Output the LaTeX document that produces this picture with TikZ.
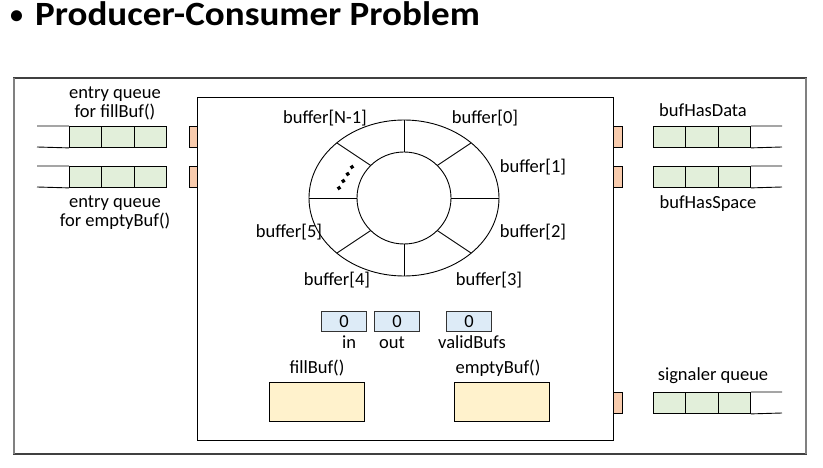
\documentclass[tikz,border=0pt]{standalone}
\usepackage{fontspec}
\setmainfont{Carlito}
\definecolor{qgreen}{HTML}{E2EFDA}
\definecolor{torange}{HTML}{F8CBAD}
\definecolor{cblue}{HTML}{DDEBF7}
\definecolor{pyellow}{HTML}{FFF2CC}
\begin{document}
\begin{tikzpicture}[x=1pt,y=-1pt,
  lbl/.style={anchor=base,inner sep=0pt,font=\fontsize{18.5}{21}\selectfont},
  cell/.style={draw,line width=0.9pt,fill=qgreen,minimum width=32.3pt,minimum height=21pt,inner sep=0pt,anchor=north west},
  tab/.style={draw,line width=0.8pt,fill=torange,minimum width=8.5pt,minimum height=21pt,inner sep=0pt,anchor=north west},
  ctr/.style={draw,line width=0.9pt,draw=black!80,fill=cblue,minimum width=45pt,minimum height=20pt,inner sep=0pt,anchor=north west,font=\fontsize{18.5}{21}\selectfont},
  proc/.style={draw,line width=0.9pt,fill=pyellow,minimum width=95pt,minimum height=39pt,inner sep=0pt,anchor=north west},
  qline/.style={line width=0.9pt},
  ring/.style={line width=0.9pt}]
\useasboundingbox (0,0) rectangle (823,468);
% title
\node[anchor=base west,inner sep=0pt,font=\fontsize{26}{28}\selectfont\bfseries] (bul) at (10,23.5) {•};
\node[anchor=base west,inner sep=0pt,transform shape,xscale=1.09,font=\fontsize{34}{38}\selectfont\bfseries] (title) at (35,26) {Producer-Consumer Problem};
% outer box
\draw[line width=1.6pt,black!75] (14,78) rectangle (806,454);
\draw[line width=2pt,gray] (14,78) -- (14,454) (806,78) -- (806,454);
% monitor box
\node[draw,line width=1.2pt,minimum width=416pt,minimum height=343pt,inner sep=0pt,anchor=north west] (mon) at (197,97) {};
% left queues
\foreach \q/\yy in {fa/126,ea/166}{
  \node[cell] (\q1) at (69,\yy) {};
  \node[cell] (\q2) at (101.3,\yy) {};
  \node[cell] (\q3) at (133.6,\yy) {};
  \coordinate (\q0t) at (37,\yy);
  \coordinate (\q0b) at (37,\yy+21);
  \draw[qline] (\q0t) -- (\q1.north west) (\q0b) -- (\q1.south west);
  \node[tab] (\q tab) at (188.5,\yy) {};
}
\node[lbl] (fal1) at (115,99) {entry queue};
\node[lbl] (fal2) at (115,118) {for fillBuf()};
\node[lbl] (eal1) at (115,208) {entry queue};
\node[lbl] (eal2) at (115,227) {for emptyBuf()};
% right queues
\foreach \q/\yy in {hd/126,hs/166,sq/392}{
  \node[cell] (\q1) at (653,\yy) {};
  \node[cell] (\q2) at (685.3,\yy) {};
  \node[cell] (\q3) at (717.6,\yy) {};
  \coordinate (\q4t) at (782,\yy);
  \coordinate (\q4b) at (782,\yy+21);
  \draw[qline] (\q3.north east) -- (\q4t) (\q3.south east) -- (\q4b);
  \node[tab] (\q tab) at (613,\yy) {};
}
\node[lbl] (hdl) at (703,117) {bufHasData};
\node[lbl] (hsl) at (708,209) {bufHasSpace};
\node[lbl] (sql) at (713,380) {signaler queue};
% ring buffer
\coordinate (c) at (404,198);
\draw[ring] (c) ellipse [x radius=95, y radius=78];
\draw[ring] (c) ellipse [x radius=47, y radius=46];
\foreach \a in {0,45,...,315}
  \draw[ring] ([shift={({47*cos(\a)},{46*sin(\a)})}]c) -- ([shift={({95*cos(\a)},{78*sin(\a)})}]c);
\foreach \px/\py/\n in {352/167/1,347.7/174/2,343.3/181/3,339/188/4}
  \node[fill,minimum size=3.3pt,inner sep=0pt,rotate=33] (dot\n) at (\px,\py) {};
\node[lbl] (bN) at (325,124) {buffer[N-1]};
\node[lbl] (b0) at (485,124) {buffer[0]};
\node[lbl] (b1) at (533,173) {buffer[1]};
\node[lbl] (b2) at (533,237) {buffer[2]};
\node[lbl] (b3) at (489,285) {buffer[3]};
\node[lbl] (b4) at (337,285) {buffer[4]};
\node[lbl] (b5) at (289,237) {buffer[5]};
% counters
\node[ctr] (cin) at (321,311) {0};
\node[ctr] (cout) at (374,311) {0};
\node[ctr] (cvb) at (446,311) {0};
\node[lbl] (lin) at (349,348) {in};
\node[lbl] (lout) at (392,348) {out};
\node[lbl] (lvb) at (472,348) {validBufs};
% procedures
\node[lbl] (lfill) at (317,373) {fillBuf()};
\node[lbl] (lempty) at (498,373) {emptyBuf()};
\node[proc] (pfill) at (269,382) {};
\node[proc] (pempty) at (454,382) {};
\end{tikzpicture}
\end{document}
